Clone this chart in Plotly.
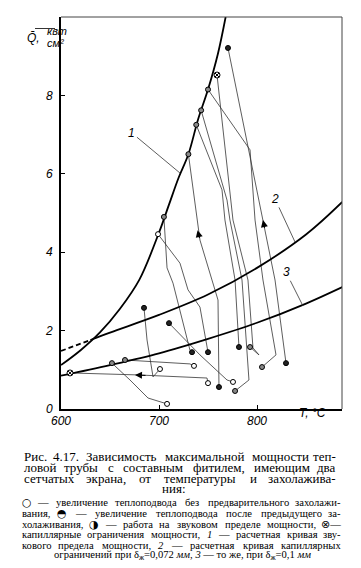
import re
import plotly.graph_objects as go

# ---------------- data ----------------
curve1_T = [600, 620, 640, 660, 680, 700, 710, 720, 730, 740, 750, 760, 768]
curve1_Q = [1.12, 1.5, 1.96, 2.55, 3.3, 4.5, 5.2, 5.9, 6.5, 7.4, 8.15, 9.05, 10.0]

curve2_dash_T = [600, 630]
curve2_dash_Q = [1.48, 1.76]
curve2_T = [630, 650, 700, 750, 800, 850, 887]
curve2_Q = [1.76, 1.95, 2.4, 2.92, 3.6, 4.45, 5.28]

curve3_T = [600, 650, 700, 750, 800, 850, 887]
curve3_Q = [0.85, 1.12, 1.42, 1.79, 2.2, 2.69, 3.11]

# experimental paths
pA_T = [770.4, 806.1, 818.4, 829.6]
pA_Q = [9.21, 4.82, 3.29, 1.17]
pB_T = [759.2, 775.5, 790.8, 795.9, 802.0, 792.9]
pB_Q = [8.52, 4.82, 3.29, 1.56, 1.38, 1.58]
pC_T = [750.0, 792.9, 798.0, 806.1, 819.4, 805.1]
pC_Q = [8.15, 6.61, 4.82, 3.29, 1.38, 1.07]
pU4_T = [743.0, 769.4, 772.4, 784.7, 791.8, 777.6]
pU4_Q = [7.62, 5.33, 4.82, 3.29, 0.74, 0.46]
pU3_T = [738.0, 764.3, 767.3, 777.6, 781.6]
pU3_Q = [7.25, 5.59, 4.82, 3.29, 1.58]
pU2_T = [730.0, 741.8, 760.2, 761.2]
pU2_Q = [6.5, 4.31, 2.78, 0.56]
pU0_T = [699.0, 721.4, 729.6, 741.8, 750.0]
pU0_Q = [4.46, 3.72, 3.04, 2.6, 1.45]
pU1_T = [705.0, 708.2, 714.3, 731.6, 733.7]
pU1_Q = [4.9, 3.6, 3.21, 1.5, 1.45]
pL1_T = [684.7, 687.8, 693.9, 701.0]
pL1_Q = [2.58, 1.76, 0.82, 1.02]
pL2_T = [710.2, 741.8, 769.4, 775.5]
pL2_Q = [2.19, 1.38, 0.74, 0.69]
pL10_T = [665.3, 687.8, 731.6, 735.7]
pL10_Q = [1.25, 1.22, 1.15, 1.1]
pL9_T = [652.0, 670.4, 688.8, 708.2]
pL9_Q = [1.17, 0.74, 0.28, 0.13]
pP8_T = [609.2, 677.6, 749.0, 750.0]
pP8_Q = [0.92, 0.87, 0.79, 0.66]

paths = [(pA_T, pA_Q), (pB_T, pB_Q), (pC_T, pC_Q), (pU4_T, pU4_Q), (pU3_T, pU3_Q),
         (pU2_T, pU2_Q), (pU0_T, pU0_Q), (pU1_T, pU1_Q), (pL1_T, pL1_Q), (pL2_T, pL2_Q),
         (pL10_T, pL10_Q), (pL9_T, pL9_Q), (pP8_T, pP8_Q)]

# markers
open_T = [699.0, 701.0, 708.2, 735.7, 750.0, 775.5]
open_Q = [4.46, 1.02, 0.13, 1.1, 0.66, 0.69]
filled_T = [770.4, 684.7, 710.2, 733.7, 750.0, 781.6, 829.6, 761.2]
filled_Q = [9.21, 2.58, 2.19, 1.45, 1.45, 1.58, 1.17, 0.56]
half_T = [792.9, 805.1, 777.6, 652.0, 665.3, 705.0, 730.0, 738.0, 743.0, 750.0]
half_Q = [1.58, 1.07, 0.46, 1.17, 1.25, 4.9, 6.5, 7.25, 7.62, 8.15]
cross_T = [759.2, 609.2]
cross_Q = [8.52, 0.92]

x_ticks = [600, 700, 800]
y_ticks = [0, 2, 4, 6, 8]

SYM = "<span style='font-family:DejaVu Sans;font-size:11px'>{}</span>"
caption_lines = [
    "Рис. 4.17. Зависимость максимальной мощности теп-",
    "ловой трубы с составным фитилем, имеющим два",
    "сетчатых экрана, от температуры и захолажива-",
    "ния:",
]
legend_lines = [
    SYM.format("○") + " — увеличение теплоподвода без предварительного захолажи-",
    "вания, " + SYM.format("◓") + " — увеличение теплоподвода после предыдущего за-",
    "холаживания, " + SYM.format("◑") + " — работа на звуковом пределе мощности, " + SYM.format("⊗") + "—",
    "капиллярные ограничения мощности, <i>1</i> — расчетная кривая зву-",
    "кового предела мощности, <i>2</i> — расчетная кривая капиллярных",
    "ограничений при δ<sub>ж</sub>=0,072 <i>мм</i>, <i>3</i> — то же, при δ<sub>ж</sub>=0,1 <i>мм</i>",
]

# ---------------- figure ----------------
L, R, T, B = 61, 19, 17, 159
W, H = 361, 568
PW, PH = W - L - R, H - T - B


def P(px, py):
    return (px - L) / PW, (H - B - py) / PH


CW = {}
for ch, w in [("а", .444), ("б", .5), ("в", .472), ("г", .41), ("д", .5), ("е", .444),
              ("ж", .69), ("з", .395), ("и", .535), ("й", .535), ("к", .486), ("л", .5),
              ("м", .632), ("н", .535), ("о", .5), ("п", .535), ("р", .5), ("с", .444),
              ("т", .444), ("у", .5), ("ф", .65), ("х", .5), ("ц", .535), ("ч", .5),
              ("ш", .77), ("щ", .77), ("ъ", .5), ("ы", .68), ("ь", .47), ("э", .44),
              ("ю", .72), ("я", .5), (".", .25), (",", .25), (":", .278), ("-", .333),
              ("—", 1.0), ("=", .564), ("δ", .5), ("○", .9), ("◓", .9), ("◑", .9), ("⊗", .9)]:
    CW[ch] = w


def measure(txt, size):
    sub = re.findall(r"<sub>(.*?)</sub>", txt)
    plain = re.sub(r"<sub>.*?</sub>", "", txt)
    plain = re.sub(r"<.*?>", "", plain)
    w = 0.0
    for ch in plain:
        if ch.isdigit():
            w += .5
        elif ch in CW:
            w += CW[ch]
        elif ch.isupper():
            w += .64
        else:
            w += .5
    for s in sub:
        w += .5 * len(s) * 0.7
    return w * size


def split_words(line):
    # split on spaces that are not inside a tag
    parts, cur, depth = [], "", 0
    for ch in line:
        if ch == "<":
            depth += 1
        elif ch == ">":
            depth -= 1
        if ch == " " and depth == 0:
            parts.append(cur)
            cur = ""
        else:
            cur += ch
    parts.append(cur)
    return [p for p in parts if p]


def justify(line, y, x0, x1, size, font, ann):
    words = split_words(line)
    ws = [measure(wd, size) for wd in words]
    gap = (x1 - x0 - sum(ws)) / max(len(words) - 1, 1)
    gap = max(gap, 0.25 * size)
    xs = x0
    for i, (wd, w) in enumerate(zip(words, ws)):
        if i == 0:
            xx, anc = x0, "left"
        elif i == len(words) - 1:
            xx, anc = x1, "right"
        else:
            xx, anc = xs + w / 2, "center"
        px, py = P(xx, y)
        ann.append(dict(x=px, y=py, xref="paper", yref="paper", text=wd, showarrow=False,
                        xanchor=anc, yanchor="middle", font=font))
        xs += w + gap


fig = go.Figure()
thin = dict(color="#333", width=0.8)
for tx, ty in paths:
    fig.add_trace(go.Scatter(x=tx, y=ty, mode="lines", line=thin, hoverinfo="skip"))

thick = dict(color="black", width=1.8)
fig.add_trace(go.Scatter(x=curve1_T, y=curve1_Q, mode="lines", line=dict(thick, shape="spline")))
fig.add_trace(go.Scatter(x=curve2_dash_T, y=curve2_dash_Q, mode="lines",
                         line=dict(color="black", width=1.8, dash="5px,3px")))
fig.add_trace(go.Scatter(x=curve2_T, y=curve2_Q, mode="lines", line=dict(thick, shape="spline")))
fig.add_trace(go.Scatter(x=curve3_T, y=curve3_Q, mode="lines", line=dict(thick, shape="spline")))

mk = dict(size=5, line=dict(color="black", width=1))
fig.add_trace(go.Scatter(x=open_T, y=open_Q, mode="markers",
                         marker=dict(mk, symbol="circle", color="white")))
fig.add_trace(go.Scatter(x=filled_T, y=filled_Q, mode="markers",
                         marker=dict(mk, symbol="circle", color="#222")))
fig.add_trace(go.Scatter(x=half_T, y=half_Q, mode="markers",
                         marker=dict(mk, symbol="circle", color="#888")))
fig.add_trace(go.Scatter(x=cross_T, y=cross_Q, mode="markers",
                         marker=dict(size=6, symbol="circle-x", color="white",
                                     line=dict(color="black", width=1))))

ann = []
# arrows on paths
for (tx, ty, axx, ayy) in [(739.4, 4.56, 741.8, 4.31), (806.1, 4.82, 808.2, 4.57),
                           (675.5, 0.867, 687.8, 0.855)]:
    ann.append(dict(x=tx, y=ty, ax=axx, ay=ayy, xref="x", yref="y", axref="x", ayref="y",
                    showarrow=True, arrowhead=2, arrowsize=1.4, arrowwidth=1,
                    arrowcolor="black", text=" ", font=dict(size=1)))
# curve labels with leader lines
lab_font = dict(family="Liberation Sans", size=12, color="black", style="italic")
for (txt, x0, y0, x1, y1) in [("1", 672.4, 7.04, 721.4, 6.02),
                              ("2", 818.4, 5.36, 838.8, 4.26),
                              ("3", 829.6, 3.49, 846.9, 2.63)]:
    ann.append(dict(x=x1, y=y1, ax=x0, ay=y0, xref="x", yref="y", axref="x", ayref="y",
                    showarrow=True, arrowhead=0, arrowwidth=0.8, arrowcolor="#333",
                    text=txt, font=lab_font))

# axis titles
ax_font = dict(family="Liberation Sans", size=12, color="black", style="italic")
x, y = P(25, 29)
ann.append(dict(x=x, y=y, xref="paper", yref="paper", text="Q\u0304,", showarrow=False, font=ax_font))
x, y = P(45, 23)
ann.append(dict(x=x, y=y, xref="paper", yref="paper", text="квт", showarrow=False,
                font=dict(ax_font, size=11)))
x, y = P(45, 35)
ann.append(dict(x=x, y=y, xref="paper", yref="paper", text="см²", showarrow=False,
                font=dict(ax_font, size=11)))
x, y = P(328, 422)
ann.append(dict(x=x, y=y, xref="paper", yref="paper", text="T, °C", showarrow=False, font=ax_font))

# caption (justified)
cap_font = dict(family="Liberation Serif", size=13, color="black")
cap_y = [457, 467.5, 478, 488.5]
for i, line in enumerate(caption_lines[:3]):
    justify(line, cap_y[i], 22, 338, 13, cap_font, ann)
x, y = P(174, cap_y[3])
ann.append(dict(x=x, y=y, xref="paper", yref="paper", text=caption_lines[3], showarrow=False,
                yanchor="middle", font=cap_font))

small_font = dict(family="Liberation Serif", size=10.6, color="black")
leg_y = [502, 513, 524, 534.5, 545, 555.5]
for i, line in enumerate(legend_lines[:5]):
    justify(line, leg_y[i], 20, 343, 10.6, small_font, ann)
x, y = P(182, leg_y[5])
ann.append(dict(x=x, y=y, xref="paper", yref="paper", text=legend_lines[5], showarrow=False,
                yanchor="middle", font=small_font))

shapes = [
    dict(type="line", xref="paper", yref="paper", x0=0, x1=1, y0=1, y1=1,
         line=dict(color="#444", width=1)),
    dict(type="line", xref="paper", yref="paper", x0=1, x1=1, y0=0, y1=1,
         line=dict(color="#444", width=1)),
]
x0, y0 = P(35, 28.5)
x1, _ = P(55, 28.5)
shapes.append(dict(type="line", xref="paper", yref="paper", x0=x0, x1=x1, y0=y0, y1=y0,
                   line=dict(color="black", width=0.8)))

tick_font = dict(family="Liberation Sans", size=12, color="black", style="italic")
fig.update_layout(
    width=W, height=H, margin=dict(l=L, r=R, t=T, b=B),
    paper_bgcolor="white", plot_bgcolor="white", showlegend=False,
    annotations=ann, shapes=shapes,
    xaxis=dict(range=[600, 600 + PW / 0.98], tickvals=x_ticks, ticks="inside", ticklen=4,
               tickcolor="black", showline=True, linecolor="black", linewidth=1.8,
               showgrid=False, zeroline=False, tickfont=tick_font),
    yaxis=dict(range=[0, 10], tickvals=y_ticks, ticks="inside", ticklen=4,
               tickcolor="black", showline=True, linecolor="black", linewidth=1.8,
               showgrid=False, zeroline=False, tickfont=tick_font, ticklabelstandoff=4),
)
fig.write_html("out.html", config={"displayModeBar": False},
               post_script="document.body.style.margin='0';document.body.style.overflow='hidden';")
